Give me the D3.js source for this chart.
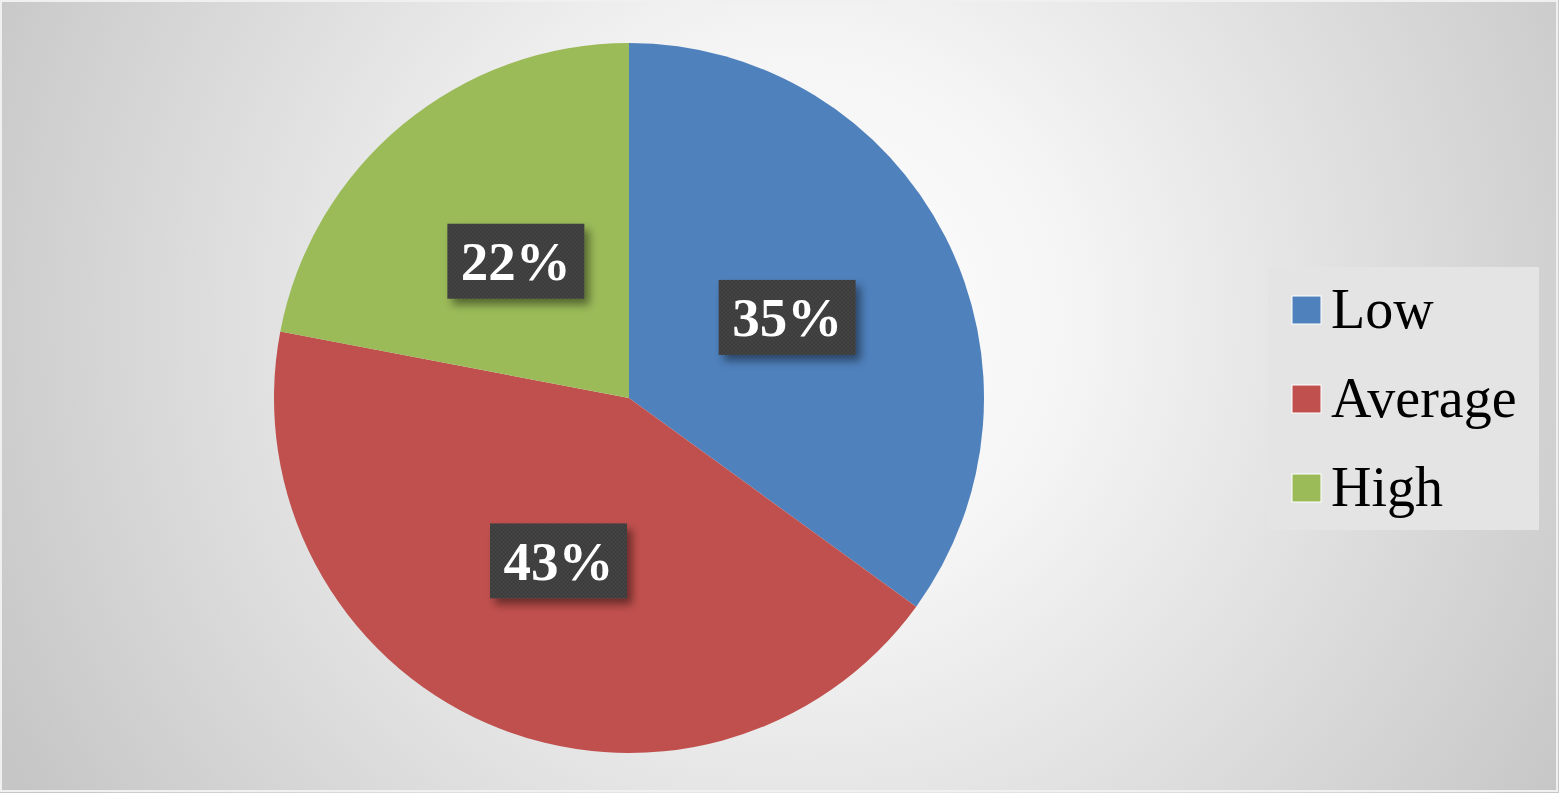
<!DOCTYPE html>
<html lang="en">
<head>
  <meta charset="UTF-8">
  <title>Pie chart</title>
  <script src="https://cdn.jsdelivr.net/npm/d3@7"></script>
  <style>
    body { margin: 0; background: #fff; }
    svg { display: block; }
  </style>
</head>
<body>
  <svg id="chart"></svg>
  <script>
    // data
    const categories = ['Low', 'Average', 'High'];
    const values = [35, 43, 22];
    const colors = ['#4f81bd', '#c0504d', '#9bbb59'];

    const width = 1559;
    const height = 793;
    const cx = 629, cy = 398, r = 355;
    const serif = '"Liberation Serif", "Times New Roman", serif';

    const svg = d3.select('#chart')
      .attr('width', width)
      .attr('height', height);

    const defs = svg.append('defs');

    const bg = defs.append('radialGradient')
      .attr('id', 'bg')
      .attr('gradientUnits', 'userSpaceOnUse')
      .attr('cx', 800).attr('cy', 320).attr('r', 900);
    bg.append('stop').attr('offset', '0%').attr('stop-color', '#ffffff');
    bg.append('stop').attr('offset', '30%').attr('stop-color', '#f5f5f5');
    bg.append('stop').attr('offset', '100%').attr('stop-color', '#c6c6c6');

    const shadow = defs.append('filter')
      .attr('id', 'shadow')
      .attr('x', '-30%').attr('y', '-30%')
      .attr('width', '160%').attr('height', '160%');
    shadow.append('feDropShadow')
      .attr('dx', 5).attr('dy', 6)
      .attr('stdDeviation', 4)
      .attr('flood-color', '#000')
      .attr('flood-opacity', 0.45);

    const check = defs.append('pattern')
      .attr('id', 'check')
      .attr('patternUnits', 'userSpaceOnUse')
      .attr('width', 4).attr('height', 4);
    check.append('rect').attr('width', 4).attr('height', 4).attr('fill', '#3a3a3a');
    check.append('rect').attr('width', 2).attr('height', 2).attr('fill', '#454545');
    check.append('rect').attr('x', 2).attr('y', 2).attr('width', 2).attr('height', 2).attr('fill', '#454545');

    svg.append('rect')
      .attr('width', width).attr('height', height)
      .attr('fill', 'url(#bg)');
    svg.append('rect')
      .attr('x', 1).attr('y', 1)
      .attr('width', width - 3).attr('height', height - 3)
      .attr('fill', 'none')
      .attr('stroke', '#f0f0f0')
      .attr('stroke-width', 2);

    const data = categories.map((c, i) => ({ name: c, value: values[i], color: colors[i] }));

    const pie = d3.pie()
      .value(d => d.value)
      .sort(null);

    const arc = d3.arc().innerRadius(0).outerRadius(r);
    const labelArc = d3.arc().innerRadius(r * 0.5).outerRadius(r * 0.5);

    const g = svg.append('g').attr('transform', `translate(${cx},${cy})`);
    const arcs = pie(data);

    g.selectAll('path')
      .data(arcs)
      .join('path')
      .attr('d', arc)
      .attr('fill', d => d.data.color)
      .attr('stroke', 'none');

    const total = d3.sum(values);
    const boxW = 137, boxH = 75;

    const lbl = g.selectAll('g.lbl')
      .data(arcs)
      .join('g')
      .attr('class', 'lbl')
      .attr('transform', d => `translate(${labelArc.centroid(d)})`);

    lbl.append('rect')
      .attr('x', -boxW / 2).attr('y', -boxH / 2)
      .attr('width', boxW).attr('height', boxH)
      .attr('fill', 'url(#check)')
      .attr('filter', 'url(#shadow)');

    lbl.append('text')
      .attr('text-anchor', 'middle')
      .attr('y', 19)
      .attr('font-family', serif)
      .attr('font-weight', 'bold')
      .attr('font-size', 55)
      .attr('fill', '#fff')
      .text(d => Math.round(d.data.value / total * 100) + '%');

    // legend
    const legend = svg.append('g');
    legend.append('rect')
      .attr('x', 1268).attr('y', 267)
      .attr('width', 271).attr('height', 263)
      .attr('fill', '#e4e4e4');

    const rowY = d3.scalePoint()
      .domain(categories)
      .range([310, 488]);

    const item = legend.selectAll('g.item')
      .data(data)
      .join('g')
      .attr('class', 'item')
      .attr('transform', d => `translate(1292,${rowY(d.name)})`);

    item.append('rect')
      .attr('x', 0).attr('y', -14)
      .attr('width', 29).attr('height', 28)
      .attr('fill', d => d.color)
      .attr('stroke', '#fff')
      .attr('stroke-width', 1);

    item.append('text')
      .attr('x', 39).attr('y', 18)
      .attr('font-family', serif)
      .attr('font-size', 56)
      .attr('fill', '#000')
      .text(d => d.name);
  </script>
</body>
</html>
